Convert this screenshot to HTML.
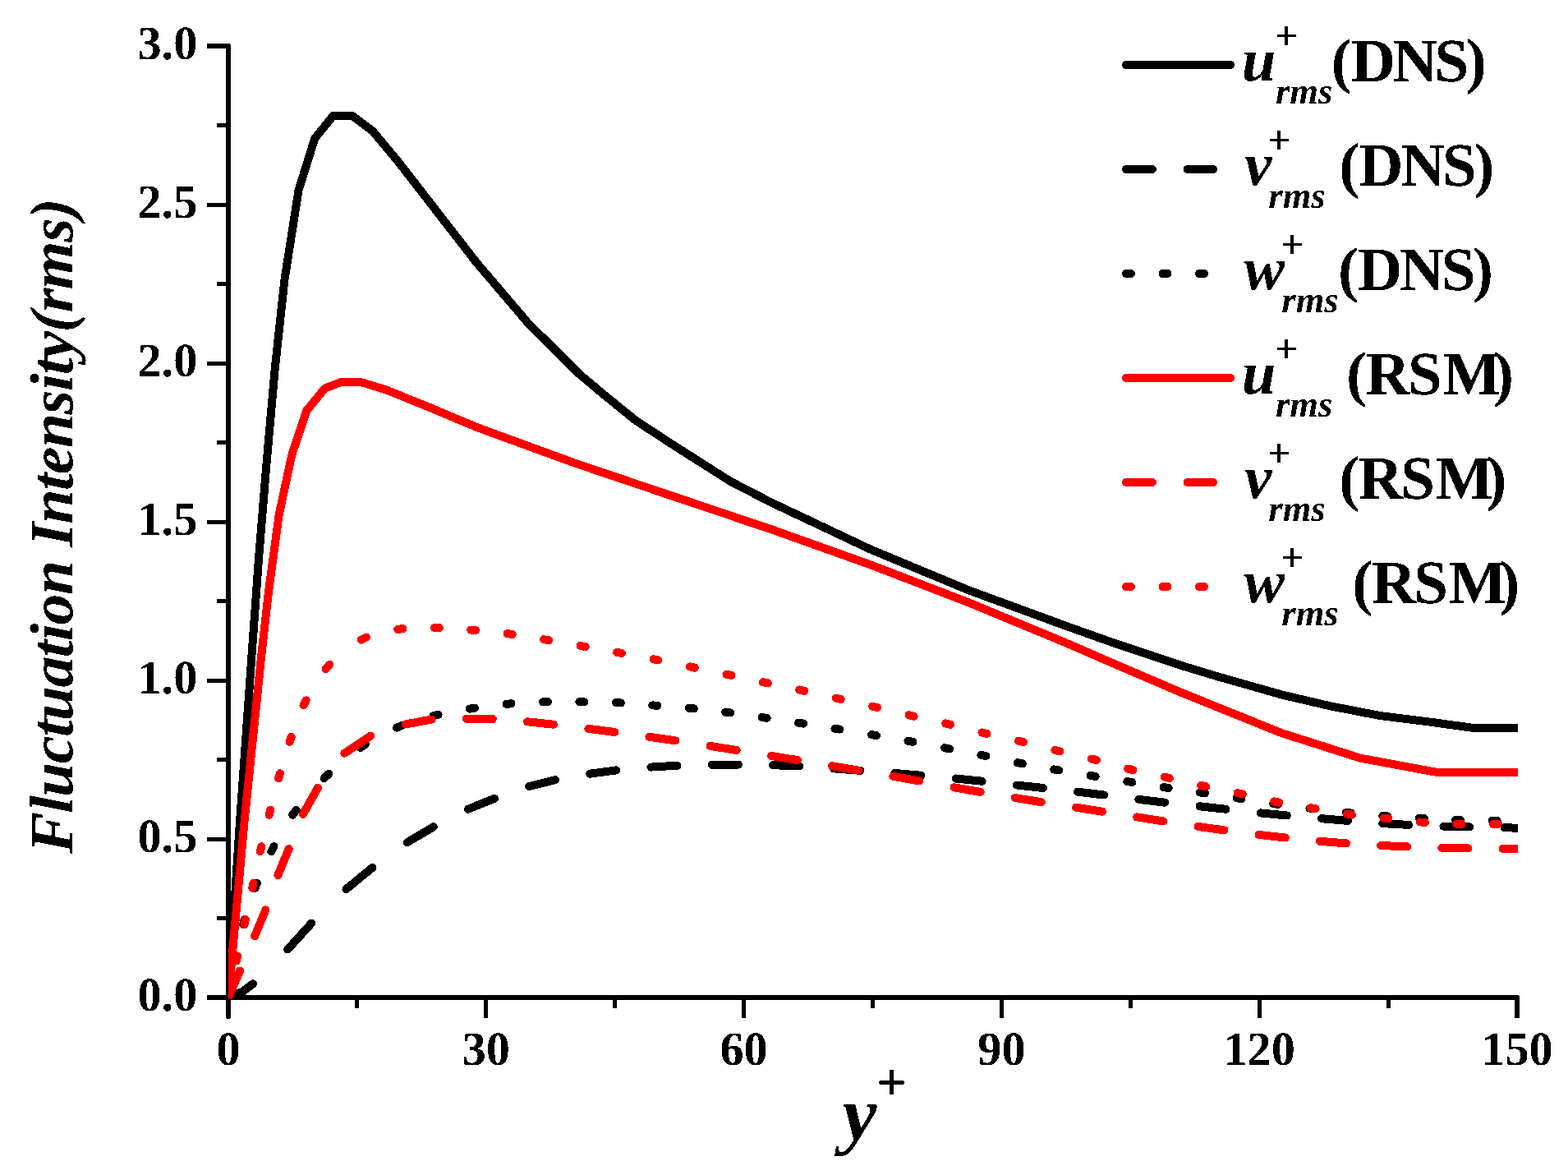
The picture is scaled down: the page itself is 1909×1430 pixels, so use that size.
<!DOCTYPE html>
<html lang="en"><head><meta charset="utf-8"><title>Fluctuation Intensity (rms) vs y+</title>
<style>
html,body{margin:0;padding:0;background:#fff;}
body{width:1909px;height:1430px;overflow:hidden;}
svg{display:block;}
text{font-family:"Liberation Serif","DejaVu Serif",serif;fill:#000;}
.tk{font-weight:bold;font-size:58.3px;}
.ax{stroke:#000;stroke-width:6;fill:none;stroke-linecap:round;}
.cv{fill:none;stroke-width:10;stroke-linecap:round;stroke-linejoin:round;}
.lg{font-weight:bold;font-size:75px;}
.bi{font-weight:bold;font-style:italic;}
</style></head><body>
<svg width="1909" height="1430" viewBox="0 0 1909 1430" shape-rendering="crispEdges" text-rendering="geometricPrecision">
<rect width="1909" height="1430" fill="#fff"/>
<defs><clipPath id="plot"><rect x="278" y="40" width="1570" height="1175.3"/></clipPath>
<filter id="bin" filterUnits="userSpaceOnUse" x="0" y="0" width="1909" height="1430" color-interpolation-filters="sRGB"><feComponentTransfer><feFuncA type="discrete" tableValues="0 1"/></feComponentTransfer></filter></defs>
<g class="ax">
<path d="M278 56 V1237" />
<path d="M278 1214 H1847" />
</g>
<g stroke="#000" stroke-width="5" fill="none">
<path d="M252.4 1214 H278" stroke-width="6"/>
<path d="M252.4 1021.5 H278"/>
<path d="M252.4 828.5 H278"/>
<path d="M252.4 635.5 H278"/>
<path d="M252.4 442.5 H278"/>
<path d="M252.4 249.5 H278"/>
<path d="M252.4 56 H278" stroke-width="6"/>
<path d="M264.4 1117.5 H278"/>
<path d="M264.4 924.5 H278"/>
<path d="M264.4 731.5 H278"/>
<path d="M264.4 538.5 H278"/>
<path d="M264.4 345.5 H278"/>
<path d="M264.4 152.5 H278"/>
<path d="M591.7 1214 V1239.4"/>
<path d="M905.5 1214 V1239.4"/>
<path d="M1219.3 1214 V1239.4"/>
<path d="M1533.1 1214 V1239.4"/>
<path d="M1847 1214 V1239.4" stroke-width="6"/>
<path d="M434.8 1214 V1227.4"/>
<path d="M748.6 1214 V1227.4"/>
<path d="M1062.4 1214 V1227.4"/>
<path d="M1376.2 1214 V1227.4"/>
<path d="M1690 1214 V1227.4"/>
</g>
<g clip-path="url(#plot)">
<path class="cv" stroke="#000" d="M278 1214 L292 1000 L306.3 800 L315 680 L324 570 L334.6 450 L346.5 340 L363.5 231.7 L383.3 168.3 L405.6 140.9 L428.8 140.9 L454.1 159.9 L485 197 L580.3 319.8 L641.9 392 L704.5 454.5 L734.8 480 L773.8 511.6 L820 541.8 L889.2 585.8 L939.6 611.8 L1060 668.7 L1179.6 718.4 L1300 762.6 L1360 783.9 L1440 810.5 L1480 822.6 L1560 845.4 L1620 859.4 L1680 871 L1740 878.5 L1793.6 885.9 L1850 885.9"/>
<path class="cv" stroke="#000" d="M278 1214 L295 1207 L308 1197.3 M350.2 1155.5 L350.5 1155.2 L379.3 1123.5 M421.4 1082.3 L421.8 1081.9 L453.4 1055.9 M495.7 1025.4 L496.5 1024.8 L527.7 1006.3 M569.9 984.8 L570.3 984.6 L601.9 971.9 M644.1 957.1 L676.1 949.1 M718.3 941.7 L750.3 937.4 M792.5 933.6 L824.5 931.7 M866.8 930.8 L898.8 930.6 M941 931.2 L973 932.5 M1015.2 935.4 L1047.2 937.8 M1089.4 941 L1121.4 943.7 M1163.6 947.5 L1195.6 950.7 M1237.9 955.5 L1269.9 959 M1312.1 963.7 L1344.1 967.5 M1386.3 972.9 L1418.3 976.7 M1460.5 981.3 L1492.5 984.8 M1534.7 989.4 L1566.7 992.5 M1609 996.2 L1641 998.9 M1683.2 1002.1 L1715.2 1003.9 M1757.4 1005.6 L1789.4 1006.5 M1831.6 1007.3 L1850 1007.7"/>
<path class="cv" stroke="#000" d="M278 1214 L279.2 1208 M287.2 1169.5 L288.4 1163.5 M296.2 1125.1 L297.8 1119.1 M310.5 1080.7 L312.9 1074.7 M330.3 1036.2 L333.5 1030.2 M356.3 991.8 L360.7 985.8 M394.6 947.3 L400.2 941.8 M438.7 909.9 L444.7 905.8 M483.1 885.6 L489.1 883.1 M527.6 871.1 L533.6 869.7 M572 862.6 L578 861.7 M616.5 856.9 L622.5 856.3 M661 854.3 L667 854.2 M705.4 854.2 L711.4 854.3 M749.9 855.1 L755.9 855.5 M794.3 858.4 L800.3 858.8 M838.8 861.8 L844.8 862.4 M883.2 866.7 L889.2 867.5 M927.6 873 L933.6 873.9 M972.1 879.7 L978.1 880.6 M1016.5 886.7 L1022.5 887.6 M1061 894.1 L1067 895.1 M1105.5 901.7 L1111.5 902.8 M1149.9 910.1 L1155.9 911.3 M1194.4 918.8 L1200.4 920 M1238.8 928.2 L1244.8 929.4 M1283.2 936.4 L1289.2 937.4 M1327.7 943.9 L1333.7 944.9 M1372.2 951.1 L1378.2 952 M1416.6 958.1 L1422.6 959 M1461 964.5 L1467 965.3 M1505.5 971.2 L1511.5 972.1 M1550 978.1 L1556 978.9 M1594.4 983.6 L1600.4 984.3 M1638.9 988.9 L1644.9 989.5 M1683.3 992.9 L1689.3 993.3 M1727.8 995.8 L1733.8 996.1 M1772.2 998 L1778.2 998.2 M1816.7 998.8 L1822.7 998.8"/>
<path class="cv" stroke="#f00" d="M278 1214 L297.5 1000 L318 800 L327 720 L339.6 627 L353.9 560 L356.2 550.6 L373.2 499.8 L395.5 472.6 L416 464.8 L441 465.5 L469.7 474.3 L520 494.6 L580 519.8 L699.6 563.5 L820 604.2 L939.6 644.4 L1060 687.4 L1179.6 733.4 L1300 783.3 L1360 809.4 L1440 843.6 L1560 892 L1656 922.6 L1749.2 939.9 L1850 939.9"/>
<path class="cv" stroke="#f00" d="M278.2 1213.5 L291.8 1182 L292 1181.5 M310.1 1139.3 L323.4 1107.4 L323.4 1107.3 M338.4 1065.1 L351.4 1033.6 L351.6 1033.1 M369 990.8 L369 990.8 L386.9 958.8 M419.4 916.6 L451.2 895.7 L451.4 895.6 M493.6 881.5 L494 881.4 L525 875.6 L525.6 875.6 M567.8 874.7 L599.8 875 M642 878.3 L674 881.7 M716.3 886.8 L748.3 891 M790.5 896.8 L822.5 901.4 M864.7 907.9 L896.7 913 M938.9 919.9 L970.9 925.1 M1013.1 932.2 L1045.1 937.6 M1087.4 944.8 L1119.4 950.5 M1161.6 958.3 L1193.6 963.9 M1235.8 971 L1267.8 976.2 M1310 982.7 L1342 987.7 M1384.2 994.4 L1416.2 999.4 M1458.5 1005.9 L1490.5 1010.4 M1532.7 1015.9 L1564.7 1019.5 M1606.9 1023.8 L1638.9 1026.4 M1681.1 1029 L1713.1 1030.4 M1755.3 1031.7 L1787.3 1032.4 M1829.6 1032.8 L1850 1033"/>
<path class="cv" stroke="#f00" d="M278 1214 L279.3 1208 M287.8 1169.5 L289.2 1163.5 M297.5 1125.1 L298.8 1119.1 M307.2 1080.7 L308.5 1074.7 M316.8 1036.2 L318.2 1030.2 M327.7 991.8 L329.2 985.8 M339.2 947.3 L340.9 941.3 M352.5 902.8 L354.6 896.8 M369.5 858.4 L372.6 852.4 M396.5 814 L401.4 808.6 M439.9 778.6 L445.9 775.6 M484.3 765.9 L490.3 765.1 M528.8 764 L534.8 764.1 M573.2 766.5 L579.2 767 M617.7 771.1 L623.7 771.9 M662.1 778.2 L668.1 779.2 M706.6 785.9 L712.6 787 M751 793.9 L757 795 M795.5 802.3 L801.5 803.5 M839.9 811.4 L845.9 812.7 M884.4 820.7 L890.4 821.9 M928.8 830.2 L934.8 831.4 M973.3 839.5 L979.3 840.8 M1017.7 849.6 L1023.7 851 M1062.2 859.7 L1068.2 861.1 M1106.6 870.3 L1112.6 871.7 M1151.1 880.4 L1157.1 881.8 M1195.5 891.5 L1201.5 892.9 M1240 901.7 L1246 903.1 M1284.4 912.9 L1290.4 914.4 M1328.9 923.5 L1334.9 925 M1373.3 935.6 L1379.3 937.1 M1417.8 945.7 L1423.8 947.1 M1462.2 955.9 L1468.2 957.2 M1506.7 965.2 L1512.7 966.5 M1551.1 975.4 L1557.1 976.6 M1595.6 983.2 L1601.6 984.3 M1640 990.7 L1646 991.6 M1684.5 995.7 L1690.5 996.3 M1728.9 1000.4 L1734.9 1000.9 M1773.4 1002.8 L1779.4 1003 M1817.8 1003 L1823.8 1003"/>
</g>
<g filter="url(#bin)">
<text class="tk" x="240.3" y="1229.5" text-anchor="end">0.0</text>
<text class="tk" x="240.3" y="1036.5" text-anchor="end">0.5</text>
<text class="tk" x="240.3" y="843.5" text-anchor="end">1.0</text>
<text class="tk" x="240.3" y="650.5" text-anchor="end">1.5</text>
<text class="tk" x="240.3" y="457.5" text-anchor="end">2.0</text>
<text class="tk" x="240.3" y="264.5" text-anchor="end">2.5</text>
<text class="tk" x="240.3" y="71.5" text-anchor="end">3.0</text>
<text class="tk" x="278" y="1295.8" text-anchor="middle">0</text>
<text class="tk" x="591.8" y="1295.8" text-anchor="middle">30</text>
<text class="tk" x="905.6" y="1295.8" text-anchor="middle">60</text>
<text class="tk" x="1219.4" y="1295.8" text-anchor="middle">90</text>
<text class="tk" x="1533.2" y="1295.8" text-anchor="middle">120</text>
<text class="tk" x="1847" y="1295.8" text-anchor="middle">150</text>
<text class="bi" font-size="75" transform="translate(88.4 1038.9) rotate(-90) skewX(-1)" textLength="797" lengthAdjust="spacing">Fluctuation Intensity(rms)</text>
<text class="bi" font-size="94.5" x="1025.4" y="1387.2">y</text>
<text font-weight="bold" font-size="65" x="1067" y="1338.7">+</text>
<path class="cv" stroke="#000" d="M1371 79 H1498"/>
<text class="bi" font-size="75" x="1511.7" y="98.3">u</text>
<text font-weight="bold" font-size="49.5" x="1551.9" y="59.9">+</text>
<text class="bi" font-size="44.6" x="1553" y="126">rms</text>
<text class="lg" x="1620.7 1644.7 1695.7 1746.5 1784.7" y="98.5">(DNS)</text>
<path class="cv" stroke="#000" d="M1370.9 206 H1402.9 M1445.7 206 H1477.2"/>
<text class="bi" font-size="75" x="1514.9" y="225.3">v</text>
<text font-weight="bold" font-size="49.5" x="1543" y="186.9">+</text>
<text class="bi" font-size="44.6" x="1544.3" y="253">rms</text>
<text class="lg" x="1630.2 1654.2 1705.2 1756 1794.2" y="225.5">(DNS)</text>
<path class="cv" stroke="#000" d="M1370.9 333 H1376.9 M1415.6 333 H1421.4 M1459.8 333 H1466.2"/>
<text class="bi" font-size="75" x="1514.2" y="352.3">w</text>
<text font-weight="bold" font-size="49.5" x="1558.9" y="313.9">+</text>
<text class="bi" font-size="44.6" x="1560.3" y="380">rms</text>
<text class="lg" x="1628.9 1652.9 1703.9 1754.7 1792.9" y="352.5">(DNS)</text>
<path class="cv" stroke="#f00" d="M1371 460 H1498"/>
<text class="bi" font-size="75" x="1511.7" y="479.3">u</text>
<text font-weight="bold" font-size="49.5" x="1551.9" y="440.9">+</text>
<text class="bi" font-size="44.6" x="1553" y="507">rms</text>
<text class="lg" x="1639.1 1662.6 1714.1 1756.4 1818.1" y="479.5">(RSM)</text>
<path class="cv" stroke="#f00" d="M1370.9 587 H1402.9 M1445.7 587 H1477.2"/>
<text class="bi" font-size="75" x="1514.9" y="606.3">v</text>
<text font-weight="bold" font-size="49.5" x="1543" y="567.9">+</text>
<text class="bi" font-size="44.6" x="1544.3" y="634">rms</text>
<text class="lg" x="1630.2 1653.7 1705.2 1747.5 1809.2" y="606.5">(RSM)</text>
<path class="cv" stroke="#f00" d="M1370.9 714 H1376.9 M1415.6 714 H1421.4 M1459.8 714 H1466.2"/>
<text class="bi" font-size="75" x="1514.2" y="733.3">w</text>
<text font-weight="bold" font-size="49.5" x="1558.9" y="694.9">+</text>
<text class="bi" font-size="44.6" x="1560.3" y="761">rms</text>
<text class="lg" x="1646.3 1669.8 1721.3 1763.6 1825.3" y="733.5">(RSM)</text>
</g>
</svg>
</body></html>
